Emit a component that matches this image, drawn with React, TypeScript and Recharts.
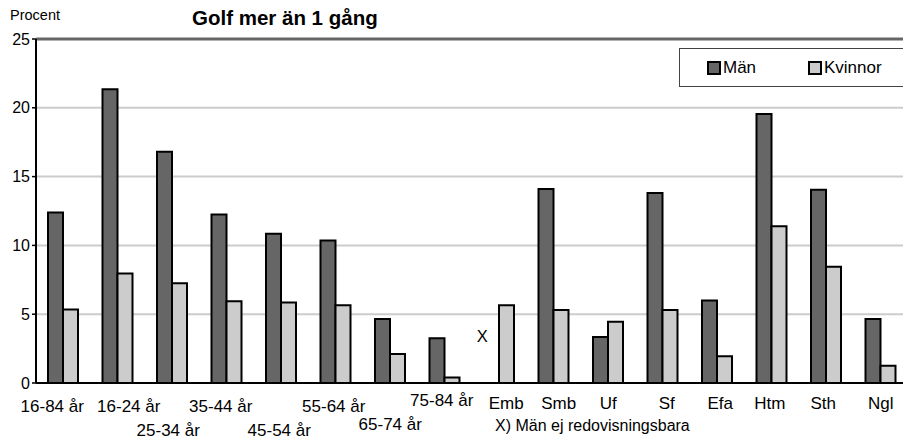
import { BarChart, Bar, XAxis, YAxis, CartesianGrid, ReferenceLine, ReferenceDot } from 'recharts';

const categories = ['16-84 år', '16-24 år', '25-34 år', '35-44 år', '45-54 år', '55-64 år', '65-74 år', '75-84 år', 'Emb', 'Smb', 'Uf', 'Sf', 'Efa', 'Htm', 'Sth', 'Ngl'];
const man = [12.4, 21.35, 16.8, 12.25, 10.85, 10.35, 4.65, 3.25, null, 14.1, 3.35, 13.8, 6.0, 19.55, 14.05, 4.65];
const kvinnor = [5.35, 7.95, 7.25, 5.95, 5.85, 5.65, 2.1, 0.4, 5.65, 5.3, 4.45, 5.3, 1.95, 11.4, 8.45, 1.25];
const yTicks = [0, 5, 10, 15, 20, 25];
const seriesNames = ['Män', 'Kvinnor'];

// Excel-style staggered tick labels: [dx, baseline y offset] per category
const tickShift: [number, number][] = [
  [-11, 21], [11, 21], [-4, 45], [-6, 21], [-2, 45], [-2, 21], [0, 39], [-3, 15],
  [7, 18], [5, 18], [0, 18], [4, 18], [3, 18], [-2, 18], [-3, 18], [0, 18]
];

const chartData = categories.map((name, i) => ({
  name,
  man: man[i],
  kvinnor: kvinnor[i]
}));

const DARK = '#666666';
const LIGHT = '#cccccc';
const FONT = 'Arial, "Liberation Sans", sans-serif';

// page has the default 8px body margin; the chart fills the window edge to edge
if (typeof document !== 'undefined') document.body.style.margin = '0';

function StaggeredTick(props: any) {
  const { x, y, payload, index } = props;
  const [dx, dy] = tickShift[index] || [0, 18];
  return <text x={x + dx} y={y + dy} textAnchor="middle" fontSize={17} fill="#000" fontFamily={FONT}>
      {payload.value}
    </text>;
}

function LegendBox() {
  const colors = [DARK, LIGHT];
  return <div style={{
    position: 'absolute',
    left: 679,
    top: 48,
    width: 260,
    height: 39,
    border: '1px solid #444',
    background: 'white',
    boxSizing: 'border-box'
  }}>
      {seriesNames.map((s, i) => <div key={s} style={{
      position: 'absolute',
      left: i === 0 ? 27 : 128,
      top: 9,
      display: 'flex',
      alignItems: 'center',
      fontSize: 17,
      lineHeight: '19px'
    }}>
          <span style={{
        width: 10,
        height: 10,
        background: colors[i],
        border: '2px solid #000',
        display: 'inline-block',
        marginRight: 2
      }} />
          {s}
        </div>)}
    </div>;
}

export default function App() {
  return <div style={{
    position: 'relative',
    width: 903,
    height: 438,
    overflow: 'hidden',
    background: 'white',
    fontFamily: FONT
  }}>
      <div style={{ position: 'absolute', left: 10, top: 8, fontSize: 14.5, lineHeight: 1 }}>Procent</div>
      <div style={{ position: 'absolute', left: 192, top: 8, fontSize: 20.5, fontWeight: 'bold', lineHeight: 1 }}>Golf mer än 1 gång</div>
      <BarChart width={912} height={438} data={chartData} barSize={15} barGap={0} margin={{
      top: 39,
      right: 4,
      left: 0,
      bottom: 0
    }}>
        <CartesianGrid vertical={false} stroke={LIGHT} strokeWidth={2} />
        <ReferenceLine y={25} stroke={DARK} strokeWidth={3} />
        <XAxis dataKey="name" interval={0} height={55} tickLine={false} axisLine={{
        stroke: '#000',
        strokeWidth: 2
      }} tick={<StaggeredTick />} />
        <YAxis domain={[0, 25]} ticks={yTicks} width={36} interval={0} tickSize={4} axisLine={{
        stroke: '#000',
        strokeWidth: 2
      }} tickLine={{
        stroke: '#000',
        strokeWidth: 1.5
      }} tick={{
        fontSize: 16,
        fill: '#000',
        fontFamily: FONT
      }} />
        <Bar dataKey="man" name={seriesNames[0]} fill={DARK} stroke="#000" strokeWidth={2} isAnimationActive={false} />
        <Bar dataKey="kvinnor" name={seriesNames[1]} fill={LIGHT} stroke="#000" strokeWidth={2} isAnimationActive={false} />
        <ReferenceDot x="Emb" y={3.4} r={0} stroke="none" label={{
        value: 'X',
        position: 'center',
        dx: -17,
        fontSize: 16.5,
        fill: '#000'
      }} />
      </BarChart>
      <LegendBox />
      <div style={{ position: 'absolute', left: 495, top: 418, fontSize: 16, lineHeight: 1 }}>X) Män ej redovisningsbara</div>
    </div>;
}
